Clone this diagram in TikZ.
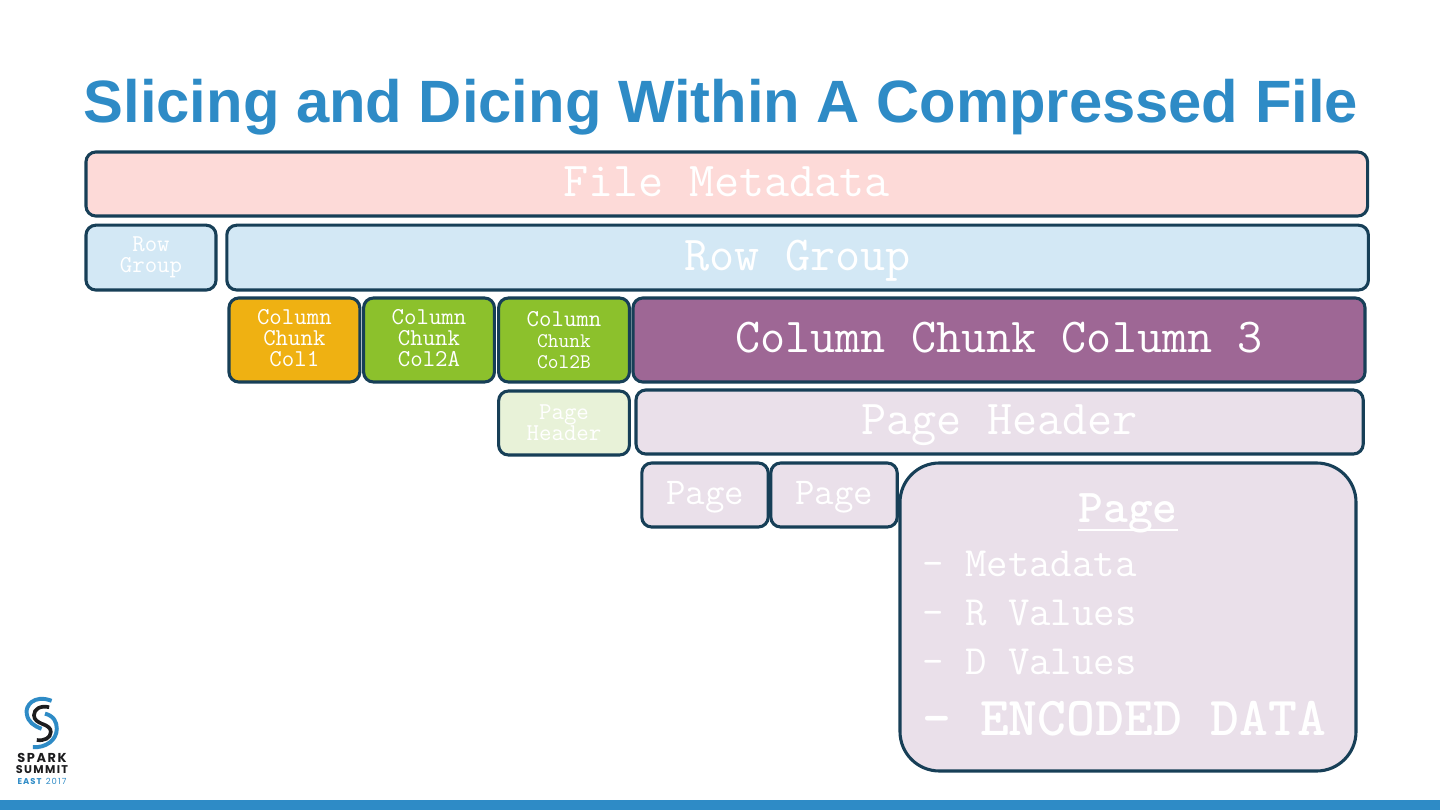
\documentclass[tikz,border=0pt]{standalone}
\usepackage{fontspec}
\setmainfont{Liberation Sans}
\newfontfamily\logofont[LetterSpace=12]{Poppins}
\usepackage{xcolor}
\definecolor{sparkblue}{HTML}{2E8BC6}
\definecolor{boxline}{HTML}{173F57}
\definecolor{metapink}{HTML}{FDDAD8}
\definecolor{rowblue}{HTML}{D3E8F5}
\definecolor{colorange}{HTML}{EFB112}
\definecolor{colgreen}{HTML}{8CC12C}
\definecolor{colpurple}{HTML}{9E6795}
\definecolor{pagegreen}{HTML}{E8F2D8}
\definecolor{pagemauve}{HTML}{EAE0EA}
\definecolor{logoink}{HTML}{1C1C1E}
\newcommand{\monosize}[1]{\ttfamily\fontsize{#1}{0.87\dimexpr #1pt\relax}\selectfont}
\newcommand{\lifted}[2]{\raisebox{\dimexpr #1-.25em\relax}[0pt][0pt]{\begin{tabular}{@{}c@{}}#2\end{tabular}}}

\tikzset{
  card/.style={draw=boxline, line width=2.2pt, rounded corners=7pt, text=white, align=center, inner sep=0pt},
  titletext/.style={text=sparkblue, font=\bfseries\fontsize{42.5}{46}\selectfont, inner sep=0pt}
}

\begin{document}
\begin{tikzpicture}
  \useasboundingbox (0, 0) rectangle (36, 20.25);

  % Title and bottom bar
  \node[titletext, anchor=base] (title) at (18.02, 17.18) {Slicing and Dicing Within A Compressed File};
  \fill[sparkblue] (0, 0) rectangle (36, 0.25);

  % File and row groups
  \node[card, fill=metapink, minimum width=32.04cm, minimum height=1.6cm, font=\monosize{34.7}] (file) at (18.17, 15.65) {\lifted{-0.3pt}{File Metadata}};
  \node[card, fill=rowblue, minimum width=3.25cm, minimum height=1.62cm, font=\monosize{17.2}] (rowa) at (3.775, 13.81) {Row\\Group};
  \node[card, fill=rowblue, minimum width=28.54cm, minimum height=1.62cm, font=\monosize{34.7}] (rowb) at (19.94, 13.81) {\lifted{-0.7pt}{Row Group}};

  % Column chunks
  \node[card, fill=colorange, minimum width=3.27cm, minimum height=2.1cm, font=\monosize{17.2}] (cola) at (7.36, 11.75) {\lifted{-0.8pt}{Column\\Chunk\\Col1}};
  \node[card, fill=colgreen, minimum width=3.27cm, minimum height=2.1cm, font=\monosize{17.2}] (colb) at (10.725, 11.75) {\lifted{-0.8pt}{Column\\Chunk\\Col2A}};
  \node[card, fill=colgreen, minimum width=3.27cm, minimum height=2.1cm, font=\monosize{17.2}] (colc) at (14.1, 11.75) {Column\\{\fontsize{14.8}{13}\selectfont Chunk}\\{\fontsize{14.8}{13}\selectfont Col2B}};
  \node[card, fill=colpurple, minimum width=18.3cm, minimum height=2.1cm, font=\monosize{34.7}] (cold) at (24.975, 11.75) {\lifted{-0.3pt}{Column Chunk Column 3}};

  % Page headers
  \node[card, fill=pagegreen, minimum width=3.27cm, minimum height=1.6cm, font=\monosize{17.2}] (heada) at (14.1, 9.675) {Page\\Header};
  \node[card, fill=pagemauve, minimum width=18.18cm, minimum height=1.6cm, font=\monosize{34.7}] (headb) at (24.99, 9.7) {\lifted{-0.7pt}{Page Header}};

  % Pages
  \node[card, fill=pagemauve, minimum width=3.16cm, minimum height=1.6cm, font=\monosize{26.9}] (pagea) at (17.625, 7.875) {\lifted{-1.4pt}{Page}};
  \node[card, fill=pagemauve, minimum width=3.16cm, minimum height=1.6cm, font=\monosize{26.9}] (pageb) at (20.85, 7.875) {\lifted{-1.4pt}{Page}};
  \node[card, fill=pagemauve, rounded corners=28pt, minimum width=11.4cm, minimum height=7.7cm] (pagec) at (28.2, 4.825) {};

  % Page contents
  \node[text=white, inner sep=0pt, font=\monosize{33.6}\bfseries] (pagetitle) at (28.2, 7.425) {Page};
  \draw[white, line width=1.5pt] ([yshift=2pt]pagetitle.south west) -- ([yshift=2pt]pagetitle.south east);
  \node[text=white, inner sep=0pt, anchor=base west, font=\monosize{29.6}] (meta) at (23.05, 5.85) {- Metadata};
  \node[text=white, inner sep=0pt, anchor=base west, font=\monosize{29.6}] (rvals) at (23.05, 4.617) {- R Values};
  \node[text=white, inner sep=0pt, anchor=base west, font=\monosize{29.6}] (dvals) at (23.05, 3.38) {- D Values};
  \node[text=white, inner sep=0pt, anchor=base west, font=\monosize{39.1}\bfseries] (encoded) at (23.05, 1.855) {- ENCODED DATA};

  % Logo
  \draw[sparkblue, line width=2.8pt] (1.29, 2.73) .. controls (0.85, 2.9) and (0.62, 2.6) .. (0.67, 2.4) .. controls (0.7, 2.2) and (0.85, 2.1) .. (1.04, 2.03);
  \draw[sparkblue, line width=2.8pt] (1.125, 2.41) .. controls (1.35, 2.35) and (1.42, 2.2) .. (1.42, 2.03) .. controls (1.42, 1.75) and (1.15, 1.55) .. (0.82, 1.57);
  \draw[logoink, line width=2.6pt] (1.23, 2.57) .. controls (1, 2.62) and (0.85, 2.52) .. (0.85, 2.37) .. controls (0.85, 2.25) and (0.95, 2.2) .. (1.04, 2.16) .. controls (1.2, 2.1) and (1.27, 2.05) .. (1.27, 1.95) .. controls (1.27, 1.8) and (1.1, 1.72) .. (0.92, 1.75);
  \node[logoink, inner sep=0pt, font=\logofont\bfseries\fontsize{9.2}{10}\selectfont] (sparkname) at (1.05, 1.29) {SPARK};
  \node[logoink, inner sep=0pt, font=\logofont\bfseries\fontsize{8}{9}\selectfont] (summitname) at (1.05, 1) {SUMMIT};
  \node[sparkblue, inner sep=0pt, font=\logofont\fontsize{6}{7}\selectfont] (eastname) at (1.05, 0.725) {\textbf{EAST} 2017};
\end{tikzpicture}
\end{document}
